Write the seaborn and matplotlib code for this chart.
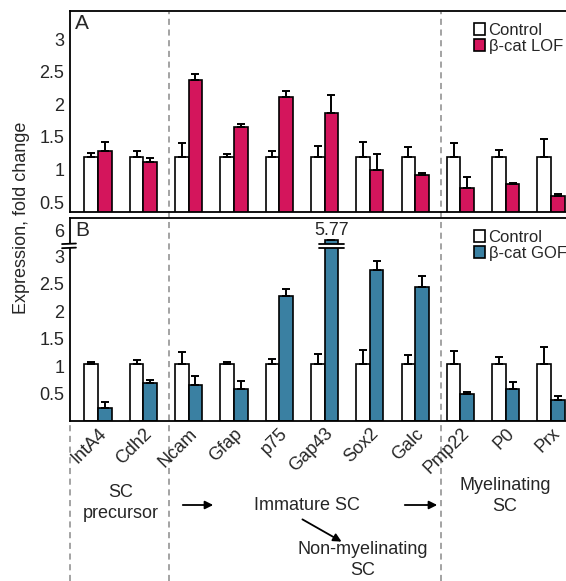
import numpy as np
import pandas as pd
import matplotlib
matplotlib.use("Agg")
import matplotlib.pyplot as plt
import seaborn as sns
from matplotlib.lines import Line2D
from matplotlib.patches import Patch, Rectangle, FancyArrowPatch
from matplotlib.transforms import blended_transform_factory

genes = ["IntA4", "Cdh2", "Ncam", "Gfap", "p75", "Gap43", "Sox2", "Galc", "Pmp22", "P0", "Prx"]

# panel A: loss of function
lof_ctrl = [1.2] * 11
lof_ctrl_err = [0.05, 0.08, 0.20, 0.04, 0.09, 0.16, 0.22, 0.14, 0.21, 0.10, 0.27]
lof = [1.28, 1.11, 2.37, 1.66, 2.11, 1.86, 1.00, 0.91, 0.72, 0.78, 0.60]
lof_err = [0.14, 0.07, 0.09, 0.04, 0.09, 0.29, 0.24, 0.03, 0.16, 0.01, 0.02]

# panel B: gain of function
gof_ctrl = [1.04] * 11
gof_ctrl_err = [0.04, 0.08, 0.22, 0.03, 0.09, 0.19, 0.25, 0.16, 0.24, 0.12, 0.31]
gof = [0.23, 0.70, 0.65, 0.58, 2.28, 5.77, 2.75, 2.45, 0.50, 0.59, 0.39]
gof_err = [0.12, 0.05, 0.17, 0.15, 0.12, 0.0, 0.16, 0.20, 0.03, 0.12, 0.07]

RED = "#d4155c"
BLUE = "#3a80a2"
CLIP_TOP = 3.29      # drawn height of the broken Gap43 bar
BREAK = (3.15, 3.225)
SIX_POS = 3.48

sns.set_style("white")
plt.rcParams["font.family"] = ["Liberation Sans", "DejaVu Sans"]

W, H = 566, 581
fig = plt.figure(figsize=(W / 100, H / 100), dpi=100)

def fx(px):
    return px / W

def fy(py):
    return 1 - py / H

axA = fig.add_axes([fx(70), fy(212), fx(566) - fx(70), fy(11) - fy(212)])
axB = fig.add_axes([fx(70), fy(421), fx(566) - fx(70), fy(218) - fy(421)])
for ax in (axA, axB):
    ax.set_facecolor("none")


def panel(ax, ctrl, ctrl_err, treat, treat_err, color, label):
    shown = np.minimum(treat, CLIP_TOP)
    df = pd.DataFrame({
        "gene": genes * 2,
        "value": list(ctrl) + list(shown),
        "group": ["Control"] * 11 + [label] * 11,
    })
    sns.barplot(data=df, x="gene", y="value", hue="group", order=genes,
                palette=["white", color], saturation=1, edgecolor="black", linewidth=1.2,
                width=0.6, errorbar=None, legend=False, ax=ax)
    for cont, errs in zip(ax.containers, [ctrl_err, treat_err]):
        xs = [b.get_x() + b.get_width() / 2 for b in cont]
        ys = [b.get_height() for b in cont]
        ax.errorbar(xs, ys, yerr=[np.zeros(len(errs)), errs], fmt="none",
                    ecolor="black", elinewidth=1.4, capsize=3, capthick=1.4, zorder=3)
    ax.set_xlim(-0.62, 10.33)
    ax.set_xlabel("")
    ax.set_ylabel("")
    ax.spines["right"].set_visible(False)
    for s in ["top", "left", "bottom"]:
        ax.spines[s].set_linewidth(1.3)
        ax.spines[s].set_color("black")
    ax.tick_params(axis="y", length=3, width=1, labelsize=13, pad=1)
    ax.tick_params(axis="x", length=0)
    handles = [Patch(facecolor="white", edgecolor="black", linewidth=1.2, label="Control"),
               Patch(facecolor=color, edgecolor="black", linewidth=1.2, label=label)]
    ax.legend(handles=handles, loc="upper left", bbox_to_anchor=(0.79, 1.0),
              frameon=False, fontsize=12, handlelength=0.7, handleheight=0.7,
              handletextpad=0.2, labelspacing=0.05, borderaxespad=0.3)


panel(axA, lof_ctrl, lof_ctrl_err, lof, lof_err, RED, "β-cat LOF")
axA.set_ylim(0.35, 3.43)
axA.set_yticks([0.5, 1, 1.5, 2, 2.5, 3])
axA.set_yticklabels(["0.5", "1", "1.5", "2", "2.5", "3"])
axA.set_xticklabels([])
axA.text(0.01, 0.985, "A", transform=axA.transAxes, va="top", ha="left", fontsize=15)

panel(axB, gof_ctrl, gof_ctrl_err, gof, gof_err, BLUE, "β-cat GOF")
axB.set_ylim(0, 3.70)
axB.set_yticks([0.5, 1, 1.5, 2, 2.5, 3, SIX_POS])
axB.set_yticklabels(["0.5", "1", "1.5", "2", "2.5", "3", "6"])
axB.set_xticks(range(len(genes)))
axB.set_xticklabels(genes, rotation=45, ha="right", rotation_mode="anchor", fontsize=13)
axB.tick_params(axis="x", pad=3)
axB.text(0.01, 0.985, "B", transform=axB.transAxes, va="top", ha="left", fontsize=15)

# axis break on the left spine
tb = blended_transform_factory(axB.transAxes, axB.transData)
axB.add_patch(Rectangle((-0.02, BREAK[0]), 0.04, BREAK[1] - BREAK[0], transform=tb,
                        facecolor="white", edgecolor="none", clip_on=False, zorder=5))
for yb in BREAK:
    axB.add_line(Line2D([-0.016, 0.012], [yb, yb + 0.01], transform=tb, color="black",
                        lw=1.3, clip_on=False, zorder=6))

# break on the Gap43 bar and its real value
gap_bar = axB.containers[1][genes.index("Gap43")]
bx = gap_bar.get_x()
bw = gap_bar.get_width()
axB.add_patch(Rectangle((bx - 0.12, BREAK[0]), bw + 0.24, BREAK[1] - BREAK[0],
                        facecolor="white", edgecolor="none", zorder=5))
for yb in BREAK:
    axB.plot([bx - 0.12, bx + bw + 0.12], [yb, yb], color="black", lw=1.3, zorder=6)
axB.text(bx + bw / 2, CLIP_TOP + 0.03, f"{gof[genes.index('Gap43')]:.2f}",
         ha="center", va="bottom", fontsize=13, clip_on=False)

# dashed stage separators through both panels and the annotation area
tsep = blended_transform_factory(axB.transData, fig.transFigure)
for xs in (1.56, 7.57):
    fig.add_artist(Line2D([xs, xs], [0, fy(12)], transform=tsep, color="#8a8a8a",
                          lw=1.1, ls=(0, (4, 3)), zorder=-1))
fig.add_artist(Line2D([fx(70), fx(70)], [0, fy(423)], color="#8a8a8a",
                      lw=1.1, ls=(0, (4, 3)), zorder=-1))

fig.text(fx(22), fy(218), "Expression, fold change", rotation=90,
         ha="center", va="center", fontsize=13)

fs = 13
fig.text(fx(121), fy(503), "SC\nprecursor", ha="center", va="center", fontsize=fs, linespacing=1.3)
fig.text(fx(307), fy(505), "Immature SC", ha="center", va="center", fontsize=fs)
fig.text(fx(505), fy(496), "Myelinating\nSC", ha="center", va="center", fontsize=fs, linespacing=1.3)
fig.text(fx(363), fy(560), "Non-myelinating\nSC", ha="center", va="center", fontsize=fs, linespacing=1.3)

arrow = dict(arrowstyle="-|>", color="black", lw=1.3, mutation_scale=12)
fig.add_artist(FancyArrowPatch((fx(180), fy(505)), (fx(216), fy(505)),
                               transform=fig.transFigure, **arrow))
fig.add_artist(FancyArrowPatch((fx(402), fy(505)), (fx(440), fy(505)),
                               transform=fig.transFigure, **arrow))
fig.add_artist(FancyArrowPatch((fx(300), fy(518)), (fx(344), fy(543)),
                               transform=fig.transFigure, **arrow))

fig.savefig("out.png", dpi=100)
